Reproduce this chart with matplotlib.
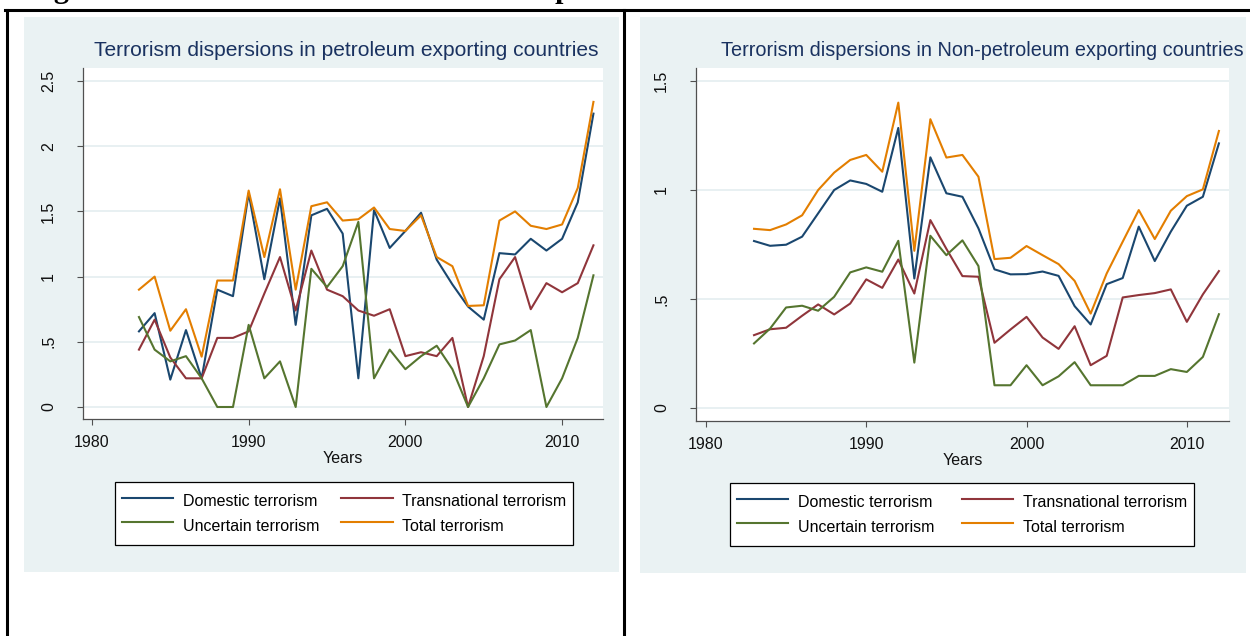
from matplotlib import pyplot as plt
from matplotlib.patches import Rectangle
from matplotlib.lines import Line2D

plt.rcParams['font.family'] = ['Liberation Sans', 'DejaVu Sans']

#Datos (1983-2012)
anios = list(range(1983, 2013))

#Paises exportadores de petroleo
domestico_pet = [0.58, 0.72, 0.21, 0.59, 0.22, 0.90, 0.85, 1.64, 0.98, 1.60,
                 0.63, 1.47, 1.52, 1.33, 0.22, 1.51, 1.22, 1.35, 1.49, 1.13,
                 0.94, 0.77, 0.67, 1.18, 1.17, 1.29, 1.20, 1.29, 1.57, 2.25]
transnacional_pet = [0.44, 0.67, 0.38, 0.22, 0.22, 0.53, 0.53, 0.58, 0.87, 1.15,
                     0.74, 1.20, 0.90, 0.85, 0.74, 0.70, 0.75, 0.39, 0.42, 0.39,
                     0.53, 0.00, 0.39, 0.98, 1.15, 0.75, 0.95, 0.88, 0.95, 1.24]
incierto_pet = [0.69, 0.44, 0.35, 0.39, 0.22, 0.00, 0.00, 0.63, 0.22, 0.35,
                0.00, 1.06, 0.92, 1.08, 1.42, 0.22, 0.44, 0.29, 0.39, 0.47,
                0.29, 0.00, 0.22, 0.48, 0.51, 0.59, 0.00, 0.22, 0.53, 1.01]
total_pet = [0.90, 1.00, 0.585, 0.75, 0.386, 0.97, 0.97, 1.66, 1.15, 1.67,
             0.90, 1.54, 1.57, 1.43, 1.44, 1.53, 1.365, 1.35, 1.47, 1.15,
             1.08, 0.775, 0.78, 1.43, 1.50, 1.39, 1.365, 1.40, 1.68, 2.34]

#Paises no exportadores de petroleo
domestico_np = [0.766, 0.744, 0.749, 0.786, 0.893, 1.0, 1.044, 1.028, 0.992, 1.285,
                0.594, 1.15, 0.985, 0.969, 0.824, 0.636, 0.613, 0.614, 0.626, 0.606,
                0.467, 0.383, 0.568, 0.596, 0.832, 0.674, 0.809, 0.928, 0.969, 1.214]
transnacional_np = [0.334, 0.361, 0.368, 0.423, 0.475, 0.429, 0.479, 0.59, 0.551, 0.681,
                    0.525, 0.862, 0.73, 0.605, 0.602, 0.299, 0.36, 0.418, 0.323, 0.271,
                    0.375, 0.196, 0.239, 0.507, 0.518, 0.527, 0.544, 0.395, 0.521, 0.628]
incierto_np = [0.296, 0.364, 0.461, 0.469, 0.446, 0.51, 0.622, 0.645, 0.625, 0.767,
               0.208, 0.79, 0.701, 0.769, 0.651, 0.104, 0.104, 0.196, 0.104, 0.145,
               0.21, 0.104, 0.104, 0.104, 0.147, 0.147, 0.178, 0.165, 0.234, 0.43]
total_np = [0.822, 0.816, 0.842, 0.884, 1.0, 1.08, 1.138, 1.161, 1.084, 1.401,
            0.721, 1.325, 1.149, 1.161, 1.061, 0.683, 0.689, 0.743, 0.701, 0.66,
            0.583, 0.433, 0.617, 0.763, 0.908, 0.775, 0.905, 0.972, 1.003, 1.271]

ticks_x = [1980, 1990, 2000, 2010]
etiquetas_x = ['1980', '1990', '2000', '2010']
ticks_y_pet = [0, 0.5, 1, 1.5, 2, 2.5]
etiquetas_y_pet = ['0', '.5', '1', '1.5', '2', '2.5']
ticks_y_np = [0, 0.5, 1, 1.5]
etiquetas_y_np = ['0', '.5', '1', '1.5']

titulo_pet = 'Terrorism dispersions in petroleum exporting countries'
titulo_np = 'Terrorism dispersions in Non-petroleum exporting countries'
leyenda = ['Domestic terrorism', 'Transnational terrorism', 'Uncertain terrorism', 'Total terrorism']
colores = ['#1a476f', '#90353b', '#55752f', '#e37e00']
fondo = '#eaf2f3'

W, H = 1250, 636
fig = plt.figure(figsize=(12.5, 6.36), dpi=100)
fig.patch.set_facecolor('white')


#Convierte pixeles (origen arriba a la izquierda) a fracciones de figura
def caja(x0, y0, x1, y1):
    return [x0 / W, 1 - y1 / H, (x1 - x0) / W, (y1 - y0) / H]


paneles = [
    dict(series=[domestico_pet, transnacional_pet, incierto_pet, total_pet],
         fondo=(24, 17, 619, 572), ejes=(83, 68, 603, 419),
         xlim=(1979.43, 2012.61), ylim=(-0.092, 2.60),
         ticks_y=ticks_y_pet, etiquetas_y=etiquetas_y_pet,
         titulo=titulo_pet, pos_titulo=(346, 50), tam_titulo=15.1,
         pos_leyenda=(115, 482), espacio_col=1.4),
    dict(series=[domestico_np, transnacional_np, incierto_np, total_np],
         fondo=(640, 17, 1246, 573), ejes=(696, 68, 1229, 421),
         xlim=(1979.38, 2012.63), ylim=(-0.06, 1.56),
         ticks_y=ticks_y_np, etiquetas_y=etiquetas_y_np,
         titulo=titulo_np, pos_titulo=(982, 50), tam_titulo=14.3,
         pos_leyenda=(730, 483), espacio_col=1.75),
]

for p in paneles:
    l, b, w, h = caja(*p['fondo'])
    fig.patches.append(Rectangle((l, b), w, h, transform=fig.transFigure,
                                 facecolor=fondo, edgecolor='none', zorder=-5))

    ax = fig.add_axes(caja(*p['ejes']))
    ax.set_facecolor('white')
    lineas = []
    for serie, color, nombre in zip(p['series'], colores, leyenda):
        linea, = ax.plot(anios, serie, color=color, lw=1.5, label=nombre)
        lineas.append(linea)

    ax.set_xlim(*p['xlim'])
    ax.set_ylim(*p['ylim'])
    ax.set_xticks(ticks_x)
    ax.set_xticklabels(etiquetas_x)
    ax.set_yticks(p['ticks_y'])
    ax.set_yticklabels(p['etiquetas_y'], rotation=90, va='center')

    for lado in ['top', 'right']:
        ax.spines[lado].set_visible(False)
    for lado in ['left', 'bottom']:
        ax.spines[lado].set_color('#505050')
        ax.spines[lado].set_linewidth(0.9)

    ax.tick_params(axis='both', direction='out', length=4.3, width=0.8,
                   colors='#505050', labelcolor='#111111', labelsize=11.5)
    ax.tick_params(axis='x', pad=7)
    ax.tick_params(axis='y', pad=15)
    ax.yaxis.grid(True, color='#e4edf0', lw=1.2)
    ax.set_axisbelow(True)
    ax.set_xlabel('Years', fontsize=11.5, color='#111111', labelpad=1)

    fig.text(p['pos_titulo'][0] / W, 1 - p['pos_titulo'][1] / H, p['titulo'],
             ha='center', va='center', fontsize=p['tam_titulo'], color='#1a3260')

    #Leyenda en dos columnas, llenada por filas como en Stata
    orden = [0, 2, 1, 3]
    ley = ax.legend([lineas[i] for i in orden], [leyenda[i] for i in orden],
                    ncol=2, loc='upper left',
                    bbox_to_anchor=(p['pos_leyenda'][0] / W, 1 - p['pos_leyenda'][1] / H),
                    bbox_transform=fig.transFigure, borderaxespad=0,
                    frameon=True, fancybox=False, edgecolor='black', framealpha=1,
                    fontsize=11.5, handlelength=3.2, handleheight=1.99,
                    handletextpad=0.6, columnspacing=p['espacio_col'],
                    borderpad=0.44, labelspacing=0)
    ley.get_frame().set_linewidth(0.9)

#Bordes de la tabla del documento
borde = dict(transform=fig.transFigure, color='black', lw=2.2)
fig.add_artist(Line2D([5 / W, 1], [1 - 9.5 / H, 1 - 9.5 / H], **borde))
fig.add_artist(Line2D([6.5 / W, 6.5 / W], [0, 1 - 9.5 / H], **borde))
fig.add_artist(Line2D([623.5 / W, 623.5 / W], [0, 1 - 9.5 / H], **borde))

#Pie de figura del documento, cortado por arriba como en el original
fig.text(27 / W, 1 + 1.6 / H, 'Figure 2: Trends of Terrorism in the Sample',
         fontfamily='Liberation Serif', fontweight='bold', fontsize=21.7,
         ha='left', va='baseline')

fig.savefig('out.png', dpi=100)
